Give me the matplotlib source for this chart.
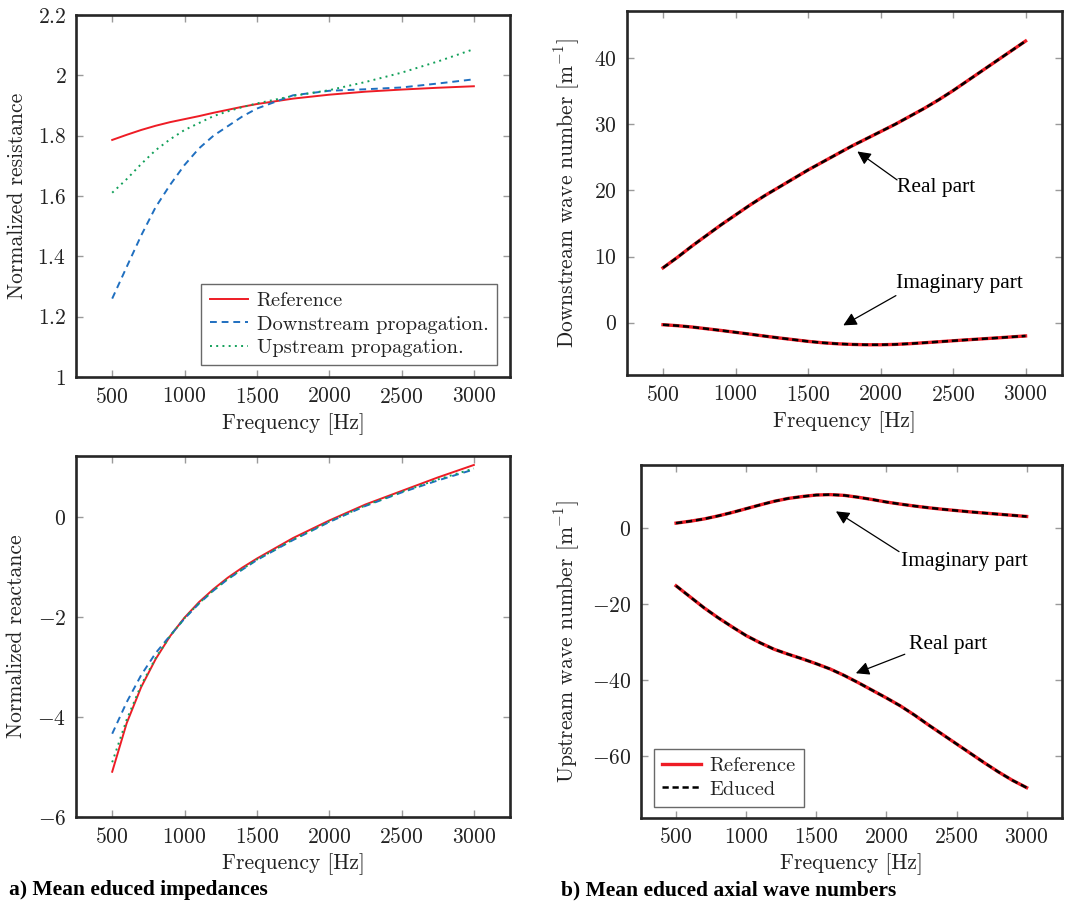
import matplotlib
matplotlib.use("Agg")
import matplotlib.pyplot as plt
from matplotlib.ticker import FixedLocator, FuncFormatter

plt.rcParams.update({
    "font.family": "cmr10",
    "mathtext.fontset": "cm",
    "axes.unicode_minus": False,
    "axes.formatter.use_mathtext": True,
})

# ---- data -----------------------------------------------------------------
freq_z = [500, 600, 700, 800, 900, 1000, 1100, 1200, 1300, 1400, 1500,
          1750, 2000, 2250, 2500, 2750, 3000]

res_ref = [1.786, 1.803, 1.819, 1.833, 1.845, 1.855, 1.865, 1.876, 1.886,
           1.896, 1.905, 1.923, 1.936, 1.946, 1.953, 1.959, 1.964]
res_down = [1.260, 1.365, 1.469, 1.563, 1.637, 1.703, 1.758, 1.800, 1.832,
            1.864, 1.890, 1.934, 1.949, 1.954, 1.960, 1.973, 1.987]
res_up = [1.611, 1.656, 1.706, 1.752, 1.788, 1.819, 1.842, 1.865, 1.881,
          1.895, 1.907, 1.932, 1.951, 1.978, 2.009, 2.046, 2.087]

reac_ref = [-5.09, -4.12, -3.40, -2.84, -2.38, -2.01, -1.70, -1.44, -1.21,
            -1.01, -0.83, -0.42, -0.07, 0.25, 0.52, 0.79, 1.04]
reac_down = [-4.33, -3.70, -3.16, -2.72, -2.37, -2.03, -1.73, -1.47, -1.24,
             -1.05, -0.86, -0.46, -0.10, 0.22, 0.49, 0.73, 0.95]
reac_up = [-4.90, -4.05, -3.36, -2.82, -2.38, -2.02, -1.72, -1.46, -1.23,
           -1.04, -0.85, -0.45, -0.09, 0.23, 0.50, 0.75, 0.97]

freq_k = [500, 600, 700, 800, 900, 1000, 1100, 1200, 1300, 1400, 1500,
          1600, 1700, 1800, 1900, 2000, 2100, 2200, 2300, 2400, 2500,
          2600, 2700, 2800, 2900, 3000]

kdown_real_ref = [8.3, 9.9, 11.6, 13.2, 14.8, 16.3, 17.8, 19.2, 20.5, 21.8,
                  23.1, 24.3, 25.5, 26.7, 27.8, 28.9, 30.0, 31.2, 32.4, 33.7,
                  35.1, 36.6, 38.1, 39.6, 41.1, 42.6]
kdown_imag_ref = [-0.30, -0.45, -0.65, -0.91, -1.17, -1.45, -1.73, -2.02,
                  -2.30, -2.56, -2.82, -3.03, -3.18, -3.28, -3.33, -3.33,
                  -3.28, -3.17, -3.03, -2.88, -2.73, -2.58, -2.44, -2.30,
                  -2.15, -2.00]
kdown_real_edu = [8.3, 9.9, 11.6, 13.2, 14.8, 16.3, 17.8, 19.2, 20.5, 21.8,
                  23.1, 24.3, 25.5, 26.7, 27.8, 28.9, 30.0, 31.2, 32.4, 33.7,
                  35.1, 36.6, 38.1, 39.6, 41.1, 42.6]
kdown_imag_edu = [-0.30, -0.45, -0.65, -0.91, -1.17, -1.45, -1.73, -2.02,
                  -2.30, -2.56, -2.82, -3.03, -3.18, -3.28, -3.33, -3.33,
                  -3.28, -3.17, -3.03, -2.88, -2.73, -2.58, -2.44, -2.30,
                  -2.15, -2.00]

kup_real_ref = [-15.2, -18.1, -21.0, -23.6, -26.0, -28.3, -30.2, -31.9,
                -33.2, -34.4, -35.7, -37.1, -38.8, -40.7, -42.7, -44.7,
                -46.8, -49.2, -51.8, -54.3, -56.8, -59.3, -61.8, -64.2,
                -66.4, -68.3]
kup_imag_ref = [1.3, 1.8, 2.4, 3.2, 4.1, 5.1, 6.1, 7.05, 7.8, 8.3, 8.7, 8.8,
                8.6, 8.1, 7.5, 6.85, 6.3, 5.8, 5.35, 4.95, 4.6, 4.25, 3.95,
                3.65, 3.35, 3.05]
kup_real_edu = [-15.2, -18.1, -21.0, -23.6, -26.0, -28.3, -30.2, -31.9,
                -33.2, -34.4, -35.7, -37.1, -38.8, -40.7, -42.7, -44.7,
                -46.8, -49.2, -51.8, -54.3, -56.8, -59.3, -61.8, -64.2,
                -66.4, -68.3]
kup_imag_edu = [1.3, 1.8, 2.4, 3.2, 4.1, 5.1, 6.1, 7.05, 7.8, 8.3, 8.7, 8.8,
                8.6, 8.1, 7.5, 6.85, 6.3, 5.8, 5.35, 4.95, 4.6, 4.25, 3.95,
                3.65, 3.35, 3.05]

x_ticks = [500, 1000, 1500, 2000, 2500, 3000]

# ---- styling ----------------------------------------------------------------
RED = "#ee1c25"
BLUE = "#1f6fc0"
GREEN = "#12a05a"
FRAME = "#262626"
TICK = "#9a9a9a"
FS = 15.5
FS_LEG = 14.7

fig = plt.figure(figsize=(10.65, 9.02), dpi=100)

ax_res = fig.add_axes([0.0714, 0.582, 0.4075, 0.4013])
ax_kd = fig.add_axes([0.5885, 0.5843, 0.4085, 0.4039])
ax_reac = fig.add_axes([0.0714, 0.0939, 0.4075, 0.4006])
ax_ku = fig.add_axes([0.6019, 0.0935, 0.3950, 0.3910])


def fmt(v, _pos):
    return "$" + ("%g" % v) + "$"


def style(ax, yticks, ylabel, ylab_x):
    for sp in ax.spines.values():
        sp.set_linewidth(1.9)
        sp.set_color(FRAME)
    ax.set_xlim(250, 3250)
    ax.xaxis.set_major_locator(FixedLocator(x_ticks))
    ax.yaxis.set_major_locator(FixedLocator(yticks))
    ax.xaxis.set_major_formatter(FuncFormatter(fmt))
    ax.yaxis.set_major_formatter(FuncFormatter(fmt))
    ax.tick_params(direction="in", top=True, right=True, length=5, width=1,
                   color=TICK, labelsize=FS, pad=7, labelcolor="#222222")
    ax.set_xlabel("Frequency [Hz]", fontsize=FS, color="#222222")
    ax.set_ylabel(ylabel, fontsize=FS, color="#222222")
    ax.xaxis.set_label_coords(0.5, -0.10)
    ax.yaxis.set_label_coords(ylab_x, 0.5)


def boxed_legend(ax, **kw):
    leg = ax.legend(borderaxespad=0, fontsize=FS_LEG, fancybox=False,
                    handlelength=1.9, handletextpad=0.4, labelspacing=0.25,
                    borderpad=0.4, **kw)
    leg.get_frame().set_edgecolor("#444444")
    leg.get_frame().set_linewidth(1.0)
    for t in leg.get_texts():
        t.set_color("#222222")
    return leg


# Normalized resistance
ax_res.plot(freq_z, res_ref, color=RED, lw=1.4, label="Reference")
ax_res.plot(freq_z, res_down, color=BLUE, lw=1.4, dashes=(3.5, 2.5),
            label="Downstream propagation.")
ax_res.plot(freq_z, res_up, color=GREEN, lw=1.4, dashes=(1, 2.2),
            label="Upstream propagation.")
ax_res.set_ylim(1, 2.2)
style(ax_res, [1, 1.2, 1.4, 1.6, 1.8, 2, 2.2], "Normalized resistance", -0.113)
boxed_legend(ax_res, loc="lower right", bbox_to_anchor=(0.969, 0.033))

# Normalized reactance
ax_reac.plot(freq_z, reac_ref, color=RED, lw=1.4)
ax_reac.plot(freq_z, reac_down, color=BLUE, lw=1.4, dashes=(3.5, 2.5))
ax_reac.plot(freq_z, reac_up, color=GREEN, lw=1.4, dashes=(1, 2.2))
ax_reac.set_ylim(-6, 1.22)
style(ax_reac, [-6, -4, -2, 0], "Normalized reactance", -0.115)

# Downstream wave number
ax_kd.plot(freq_k, kdown_real_ref, color=RED, lw=2.4)
ax_kd.plot(freq_k, kdown_real_edu, color="black", lw=1.8, dashes=(2.5, 1.5))
ax_kd.plot(freq_k, kdown_imag_ref, color=RED, lw=2.4)
ax_kd.plot(freq_k, kdown_imag_edu, color="black", lw=1.8, dashes=(2.5, 1.5))
ax_kd.set_ylim(-7.9, 47.2)
style(ax_kd, [0, 10, 20, 30, 40], "Downstream wave number [m$^{-1}$]", -0.103)

# Upstream wave number
ax_ku.plot(freq_k, kup_real_ref, color=RED, lw=2.4, label="Reference")
ax_ku.plot(freq_k, kup_real_edu, color="black", lw=1.8, dashes=(2.5, 1.5),
           label="Educed")
ax_ku.plot(freq_k, kup_imag_ref, color=RED, lw=2.4)
ax_ku.plot(freq_k, kup_imag_edu, color="black", lw=1.8, dashes=(2.5, 1.5))
ax_ku.set_ylim(-76.2, 16.6)
style(ax_ku, [-60, -40, -20, 0], "Upstream wave number [m$^{-1}$]", -0.141)
boxed_legend(ax_ku, loc="lower left", bbox_to_anchor=(0.0316, 0.031))

# Annotations for real / imaginary parts
ANN_FONT = dict(family="Liberation Serif", fontsize=15.5, color="black",
                ha="center", va="center")
ARROW = dict(arrowstyle="-|>", color="black", lw=0.9, mutation_scale=20,
             shrinkA=0, shrinkB=0)


def note(ax, text, text_xy, tail, head):
    ax.text(text_xy[0], text_xy[1], text, **ANN_FONT)
    ax.annotate("", xy=head, xytext=tail, arrowprops=ARROW)


note(ax_kd, "Real part", (2381, 20.4), (2114, 21.6), (1840, 25.9))
note(ax_kd, "Imaginary part", (2546, 6.0), (2106, 4.1), (1743, -0.4))
note(ax_ku, "Imaginary part", (2553, -8.8), (2090, -6.2), (1640, 4.4))
note(ax_ku, "Real part", (2442, -30.7), (2131, -33.2), (1782, -38.2))

# Panel captions
fig.text(9 / 1065, 1 - 890 / 902, "a) Mean educed impedances",
         family="Liberation Serif", fontweight="bold", fontsize=15.5,
         ha="left", va="center")
fig.text(561 / 1065, 1 - 890 / 902, "b) Mean educed axial wave numbers",
         family="Liberation Serif", fontweight="bold", fontsize=15.5,
         ha="left", va="center")

fig.savefig("out.png", dpi=100)
